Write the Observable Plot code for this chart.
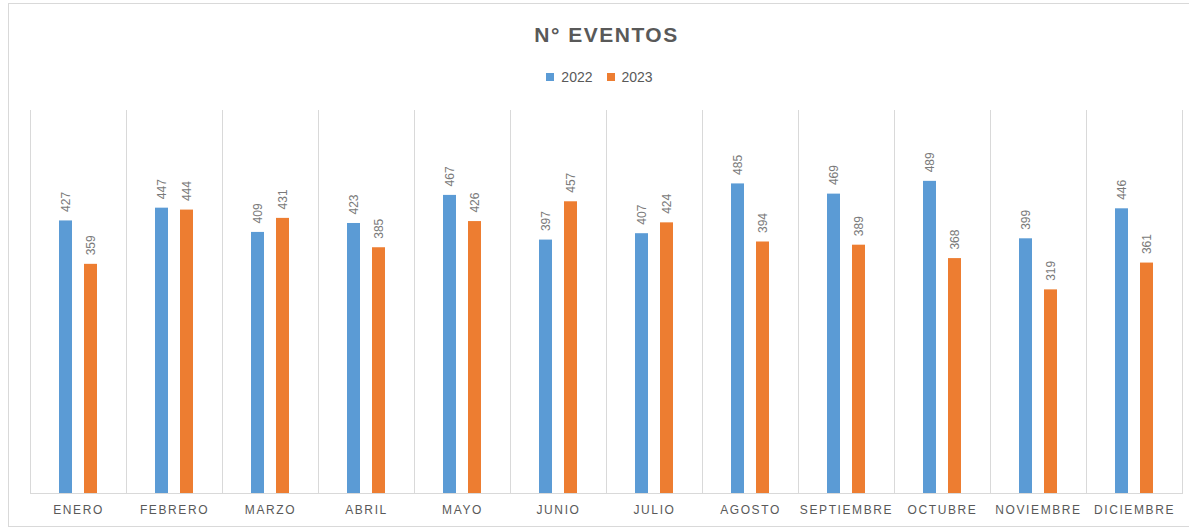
<!DOCTYPE html>
<html>
<head>
<meta charset="utf-8">
<script src="https://cdn.jsdelivr.net/npm/d3@7"></script>
<script src="https://cdn.jsdelivr.net/npm/@observablehq/plot@0.6"></script>
<style>
  html, body { margin: 0; padding: 0; background: #fff; }
  #wrap { position: relative; width: 1189px; height: 529px; overflow: hidden; font-family: "Liberation Sans", Arial, sans-serif; }
  #border { position: absolute; left: 8px; top: 3px; width: 1190px; height: 524px; border: 1px solid #d9d9d9; box-sizing: border-box; }
  #title { position: absolute; left: 0; top: 20px; width: 1213px; text-align: center; font-size: 21px; font-weight: bold; color: #595959; letter-spacing: 1.5px; line-height: 30px; }
  #legend { position: absolute; left: 0; top: 60px; width: 1213px; display: flex; justify-content: center; }
  #chart { position: absolute; left: 0; top: 95px; }
  #chart g[aria-label="fx-axis tick label"] { letter-spacing: 1.6px; }
</style>
</head>
<body>
<div id="wrap">
  <div id="border"></div>
  <div id="title">N° EVENTOS</div>
  <div id="legend"></div>
  <div id="chart"></div>
</div>
<script>
const months = ["ENERO","FEBRERO","MARZO","ABRIL","MAYO","JUNIO","JULIO","AGOSTO","SEPTIEMBRE","OCTUBRE","NOVIEMBRE","DICIEMBRE"];
const years = ["2022","2023"];
const values2022 = [427,447,409,423,467,397,407,485,469,489,399,446];
const values2023 = [359,444,431,385,426,457,424,394,389,368,319,361];
const colors = ["#5b9bd5","#ed7d31"];

const data = [];
months.forEach((m, i) => {
  data.push({month: m, year: years[0], value: values2022[i]});
  data.push({month: m, year: years[1], value: values2023[i]});
});

const legend = Plot.legend({
  color: {domain: years, range: colors},
  legend: "swatches",
  swatchSize: 8,
  style: {fontFamily: "Liberation Sans, Arial, sans-serif", fontSize: "14px", color: "#595959"}
});
document.getElementById("legend").append(legend);

const chart = Plot.plot({
  width: 1189,
  height: 434,
  marginLeft: 27,
  marginRight: 4,
  marginTop: 15,
  marginBottom: 36,
  style: {fontFamily: "Liberation Sans, Arial, sans-serif", background: "transparent"},
  fx: {domain: months, padding: 0, axis: null},
  x: {domain: years, paddingInner: 0.5, paddingOuter: 1.1, axis: null},
  y: {domain: [0, 600], axis: null},
  color: {domain: years, range: colors},
  marks: [
    Plot.frame({anchor: "left", stroke: "#d9d9d9"}),
    Plot.frame({anchor: "right", stroke: "#d9d9d9"}),
    Plot.ruleY([0], {stroke: "#d9d9d9"}),
    Plot.barY(data, {fx: "month", x: "year", y: "value", fill: "year"}),
    Plot.text(data, {fx: "month", x: "year", y: "value", text: d => String(d.value), rotate: -90, textAnchor: "start", dy: -9, fill: "#7a7a7a", fontSize: 12}),
    Plot.axisFx({anchor: "bottom", tickSize: 0, tickPadding: 12, fontSize: 12, fill: "#595959", label: null})
  ]
});
document.getElementById("chart").append(chart);
</script>
</body>
</html>
